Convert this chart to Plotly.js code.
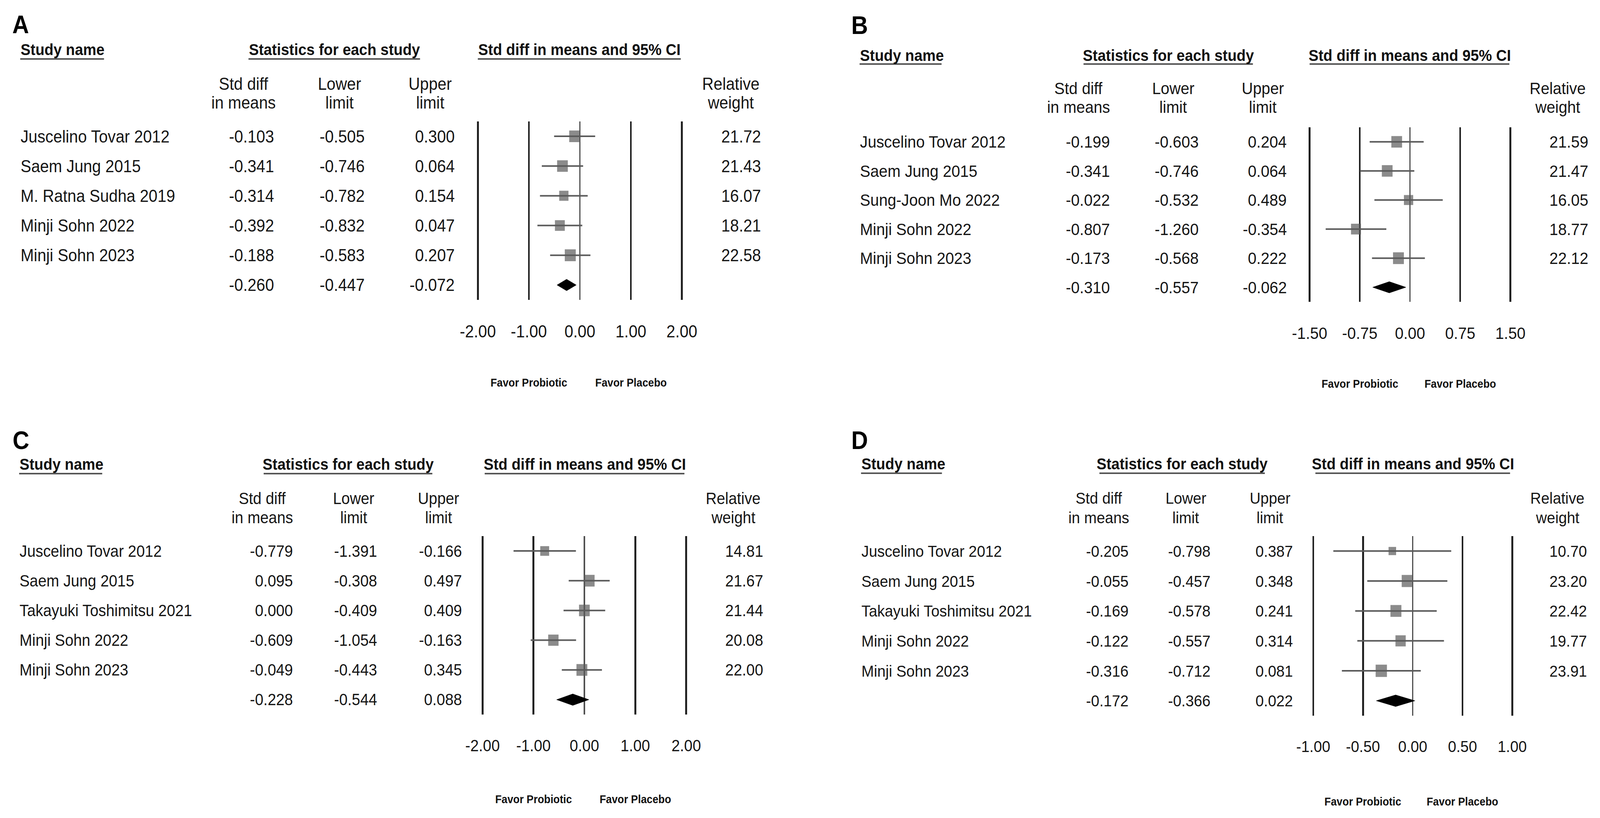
<!DOCTYPE html>
<html>
<head>
<meta charset="utf-8">
<script src="https://cdn.plot.ly/plotly-3.0.1.min.js"></script>
<style>
html,body{margin:0;padding:0;background:#ffffff;overflow:hidden;}
#chart{position:absolute;left:0;top:0;width:4430px;height:2095px;transform-origin:0 0;}
</style>
</head>
<body>
<div id="chart"></div>
<script>
// ---------------- DATA ----------------
const studiesA = ["Juscelino Tovar 2012", "Saem Jung 2015", "M. Ratna Sudha 2019", "Minji Sohn 2022", "Minji Sohn 2023"];
const estA    = [-0.103, -0.341, -0.314, -0.392, -0.188];
const lowA    = [-0.505, -0.746, -0.782, -0.832, -0.583];
const upA     = [0.300, 0.064, 0.154, 0.047, 0.207];
const weightA = [21.72, 21.43, 16.07, 18.21, 22.58];
const pooledA = [-0.260, -0.447, -0.072];
const ticksA  = [-2, -1, 0, 1, 2];

const studiesB = ["Juscelino Tovar 2012", "Saem Jung 2015", "Sung-Joon Mo 2022", "Minji Sohn 2022", "Minji Sohn 2023"];
const estB    = [-0.199, -0.341, -0.022, -0.807, -0.173];
const lowB    = [-0.603, -0.746, -0.532, -1.260, -0.568];
const upB     = [0.204, 0.064, 0.489, -0.354, 0.222];
const weightB = [21.59, 21.47, 16.05, 18.77, 22.12];
const pooledB = [-0.310, -0.557, -0.062];
const ticksB  = [-1.5, -0.75, 0, 0.75, 1.5];

const studiesC = ["Juscelino Tovar 2012", "Saem Jung 2015", "Takayuki Toshimitsu 2021", "Minji Sohn 2022", "Minji Sohn 2023"];
const estC    = [-0.779, 0.095, 0.000, -0.609, -0.049];
const lowC    = [-1.391, -0.308, -0.409, -1.054, -0.443];
const upC     = [-0.166, 0.497, 0.409, -0.163, 0.345];
const weightC = [14.81, 21.67, 21.44, 20.08, 22.00];
const pooledC = [-0.228, -0.544, 0.088];
const ticksC  = [-2, -1, 0, 1, 2];

const studiesD = ["Juscelino Tovar 2012", "Saem Jung 2015", "Takayuki Toshimitsu 2021", "Minji Sohn 2022", "Minji Sohn 2023"];
const estD    = [-0.205, -0.055, -0.169, -0.122, -0.316];
const lowD    = [-0.798, -0.457, -0.578, -0.557, -0.712];
const upD     = [0.387, 0.348, 0.241, 0.314, 0.081];
const weightD = [10.70, 23.20, 22.42, 19.77, 23.91];
const pooledD = [-0.172, -0.366, 0.022];
const ticksD  = [-1, -0.5, 0, 0.5, 1];

const panelLetters = ["A", "B", "C", "D"];
const headerStudy = "Study name";
const headerStats = "Statistics for each study";
const headerCI = "Std diff in means and 95% CI";
const colHeaders = [["Std diff", "in means"], ["Lower", "limit"], ["Upper", "limit"], ["Relative", "weight"]];
const favorLabels = ["Favor Probiotic", "Favor Placebo"];

// ---------------- LAYOUT (pixel positions on the 4430 x 2095 design canvas) ----------------
const W = 4430, H = 2095;
const FONT = "Liberation Sans, Arial, Helvetica, sans-serif";
const TXT = "#151515";
const GREY = "#5a5a5a";

const panels = [
  {letter:panelLetters[0], studies:studiesA, est:estA, low:lowA, up:upA, w:weightA, pooled:pooledA, ticks:ticksA,
   xl:1323, xr:1888, top:311, bottom:768, fs:44,
   letterX:33, letterY:63, headY:127, ulY:151, chY:[214,262], studyX:56,
   std:[760,674], lower:[1011,940], upper:[1260,1191], rw:[2108,2023],
   stats:[688,1163], ci:[1323,1885], studyUL:[56,288], favorY:980},
  {letter:panelLetters[1], studies:studiesB, est:estB, low:lowB, up:upB, w:weightB, pooled:pooledB, ticks:ticksB,
   xl:3626, xr:4182, top:326, bottom:773, fs:43,
   letterX:2356, letterY:65, headY:142, ulY:164, chY:[226,274], studyX:2380,
   std:[3074,2986], lower:[3320,3248], upper:[3564,3496], rw:[4399,4312],
   stats:[3000,3469], ci:[3626,4179], studyUL:[2380,2607], favorY:983},
  {letter:panelLetters[2], studies:studiesC, est:estC, low:lowC, up:upC, w:weightC, pooled:pooledC, ticks:ticksC,
   xl:1336, xr:1900, top:1373, bottom:1830, fs:42,
   letterX:34, letterY:1128, headY:1189, ulY:1213, chY:[1276,1325], studyX:53,
   std:[812,726], lower:[1045,979], upper:[1280,1214], rw:[2114,2030],
   stats:[730,1197], ci:[1342,1895], studyUL:[53,283], favorY:2047},
  {letter:panelLetters[3], studies:studiesD, est:estD, low:lowD, up:upD, w:weightD, pooled:pooledD, ticks:ticksD,
   xl:3636, xr:4187, top:1373, bottom:1833, fs:41.5,
   letterX:2356, letterY:1128, headY:1188, ulY:1212, chY:[1275,1325], studyX:2384,
   std:[3126,3042], lower:[3353,3283], upper:[3581,3516], rw:[4395,4312],
   stats:[3044,3502], ci:[3642,4181], studyUL:[2384,2608], favorY:2053}
];

const px = x => x / W;
const py = y => 1 - y / H;

const traces = [];
const annotations = [];
const shapes = [];
const layout = {
  width: W, height: H,
  margin: {l:0, r:0, t:0, b:0},
  paper_bgcolor: "#ffffff", plot_bgcolor: "rgba(0,0,0,0)",
  showlegend: false,
  font: {family: FONT, color: TXT},
  annotations: annotations,
  shapes: shapes
};

function ann(o) {
  annotations.push(Object.assign({showarrow:false, borderpad:0}, o));
}

panels.forEach((p, i) => {
  const n = i === 0 ? "" : String(i + 1);
  const xr = "x" + n, yr = "y" + n;
  const r0 = p.ticks[0], r1 = p.ticks[p.ticks.length - 1];
  const unit = (p.xr - p.xl) / (r1 - r0);
  const pad = 0.04 * (r1 - r0);
  layout["xaxis" + n] = {
    domain: [px(p.xl - pad * unit), px(p.xr + pad * unit)],
    range: [r0 - pad, r1 + pad],
    anchor: yr,
    tickmode: "array",
    tickvals: p.ticks,
    ticktext: p.ticks.map(v => v.toFixed(2)),
    showgrid: true, gridcolor: "#222222", gridwidth: 5,
    zeroline: true, zerolinecolor: "#505050", zerolinewidth: 3.5,
    showline: false, ticks: "",
    ticklabelstandoff: 51,
    tickfont: {family: FONT, size: p.fs, color: TXT},
    fixedrange: true
  };
  layout["yaxis" + n] = {
    domain: [py(p.bottom), py(p.top)],
    range: [5.5, -0.5],
    anchor: xr,
    showgrid: false, zeroline: false, showticklabels: false, showline: false, ticks: "",
    fixedrange: true
  };

  const rows = p.est.map((_, k) => k);
  // each study: square (area by weight) with its 95% CI whisker
  traces.push({
    type: "scatter", mode: "markers", xaxis: xr, yaxis: yr,
    x: p.est, y: rows,
    marker: {symbol: "square", color: GREY, size: p.w.map(v => 6.4 * Math.sqrt(v)), line: {width: 0}},
    error_x: {type: "data", symmetric: false,
      array: p.up.map((u, k) => u - p.est[k]),
      arrayminus: p.est.map((e, k) => e - p.low[k]),
      width: 0, thickness: 4, color: GREY},
    hoverinfo: "skip"
  });
  // pooled estimate diamond
  const yc = p.studies.length, h = 0.193;
  traces.push({
    type: "scatter", mode: "lines", xaxis: xr, yaxis: yr,
    x: [p.pooled[1], p.pooled[0], p.pooled[2], p.pooled[0], p.pooled[1]],
    y: [yc, yc - h, yc, yc + h, yc],
    fill: "toself", fillcolor: "#000000", line: {color: "#000000", width: 1},
    hoverinfo: "skip"
  });

  ann({xref:"paper", yref:"paper", x:px(p.letterX), y:py(p.letterY), xanchor:"left", yanchor:"middle",
       text:p.letter, font:{family:FONT, size:64, weight:700, color:"#000"}});
  const hf = {family:FONT, size:41, weight:700, color:"#111"};
  ann({xref:"paper", yref:"paper", x:px(p.studyX), y:py(p.headY), xanchor:"left", yanchor:"middle", text:headerStudy, font:hf});
  ann({xref:"paper", yref:"paper", x:px((p.stats[0]+p.stats[1])/2), y:py(p.headY), xanchor:"center", yanchor:"middle", text:headerStats, font:hf});
  ann({xref:"paper", yref:"paper", x:px((p.ci[0]+p.ci[1])/2), y:py(p.headY), xanchor:"center", yanchor:"middle", text:headerCI, font:hf});
  [p.studyUL, p.stats, p.ci].forEach(seg => {
    shapes.push({type:"line", xref:"paper", yref:"paper", x0:px(seg[0]), x1:px(seg[1]), y0:py(p.ulY), y1:py(p.ulY),
                 line:{color:"#555555", width:4}});
  });
  const cf = {family:FONT, size:p.fs, color:TXT};
  [p.std, p.lower, p.upper, p.rw].forEach((c, ci) => {
    colHeaders[ci].forEach((t, li) => {
      ann({xref:"paper", yref:"paper", x:px(c[1]), y:py(p.chY[li]), xanchor:"center", yanchor:"middle", text:t, font:cf});
    });
  });
  p.studies.forEach((s, k) => {
    ann({xref:"paper", yref:yr, x:px(p.studyX), y:k, xanchor:"left", yanchor:"middle", text:s, font:cf});
    ann({xref:"paper", yref:yr, x:px(p.std[0]), y:k, xanchor:"right", yanchor:"middle", text:p.est[k].toFixed(3), font:cf});
    ann({xref:"paper", yref:yr, x:px(p.lower[0]), y:k, xanchor:"right", yanchor:"middle", text:p.low[k].toFixed(3), font:cf});
    ann({xref:"paper", yref:yr, x:px(p.upper[0]), y:k, xanchor:"right", yanchor:"middle", text:p.up[k].toFixed(3), font:cf});
    ann({xref:"paper", yref:yr, x:px(p.rw[0]), y:k, xanchor:"right", yanchor:"middle", text:p.w[k].toFixed(2), font:cf});
  });
  ann({xref:"paper", yref:yr, x:px(p.std[0]), y:yc, xanchor:"right", yanchor:"middle", text:p.pooled[0].toFixed(3), font:cf});
  ann({xref:"paper", yref:yr, x:px(p.lower[0]), y:yc, xanchor:"right", yanchor:"middle", text:p.pooled[1].toFixed(3), font:cf});
  ann({xref:"paper", yref:yr, x:px(p.upper[0]), y:yc, xanchor:"right", yanchor:"middle", text:p.pooled[2].toFixed(3), font:cf});
  const ff = {family:FONT, size:29, weight:700, color:"#111"};
  ann({xref:xr, yref:"paper", x:p.ticks[1], y:py(p.favorY), xanchor:"center", yanchor:"middle", text:favorLabels[0], font:ff});
  ann({xref:xr, yref:"paper", x:p.ticks[3], y:py(p.favorY), xanchor:"center", yanchor:"middle", text:favorLabels[1], font:ff});
});

// fit the 4430 x 2095 design into whatever viewport the page is given
const el = document.getElementById("chart");
const VW = window.innerWidth || W, VH = window.innerHeight || H;
el.style.transform = "scale(" + (VW / W) + "," + (VH / H) + ")";

Plotly.newPlot("chart", traces, layout, {displayModeBar:false, staticPlot:true});
</script>
</body>
</html>
